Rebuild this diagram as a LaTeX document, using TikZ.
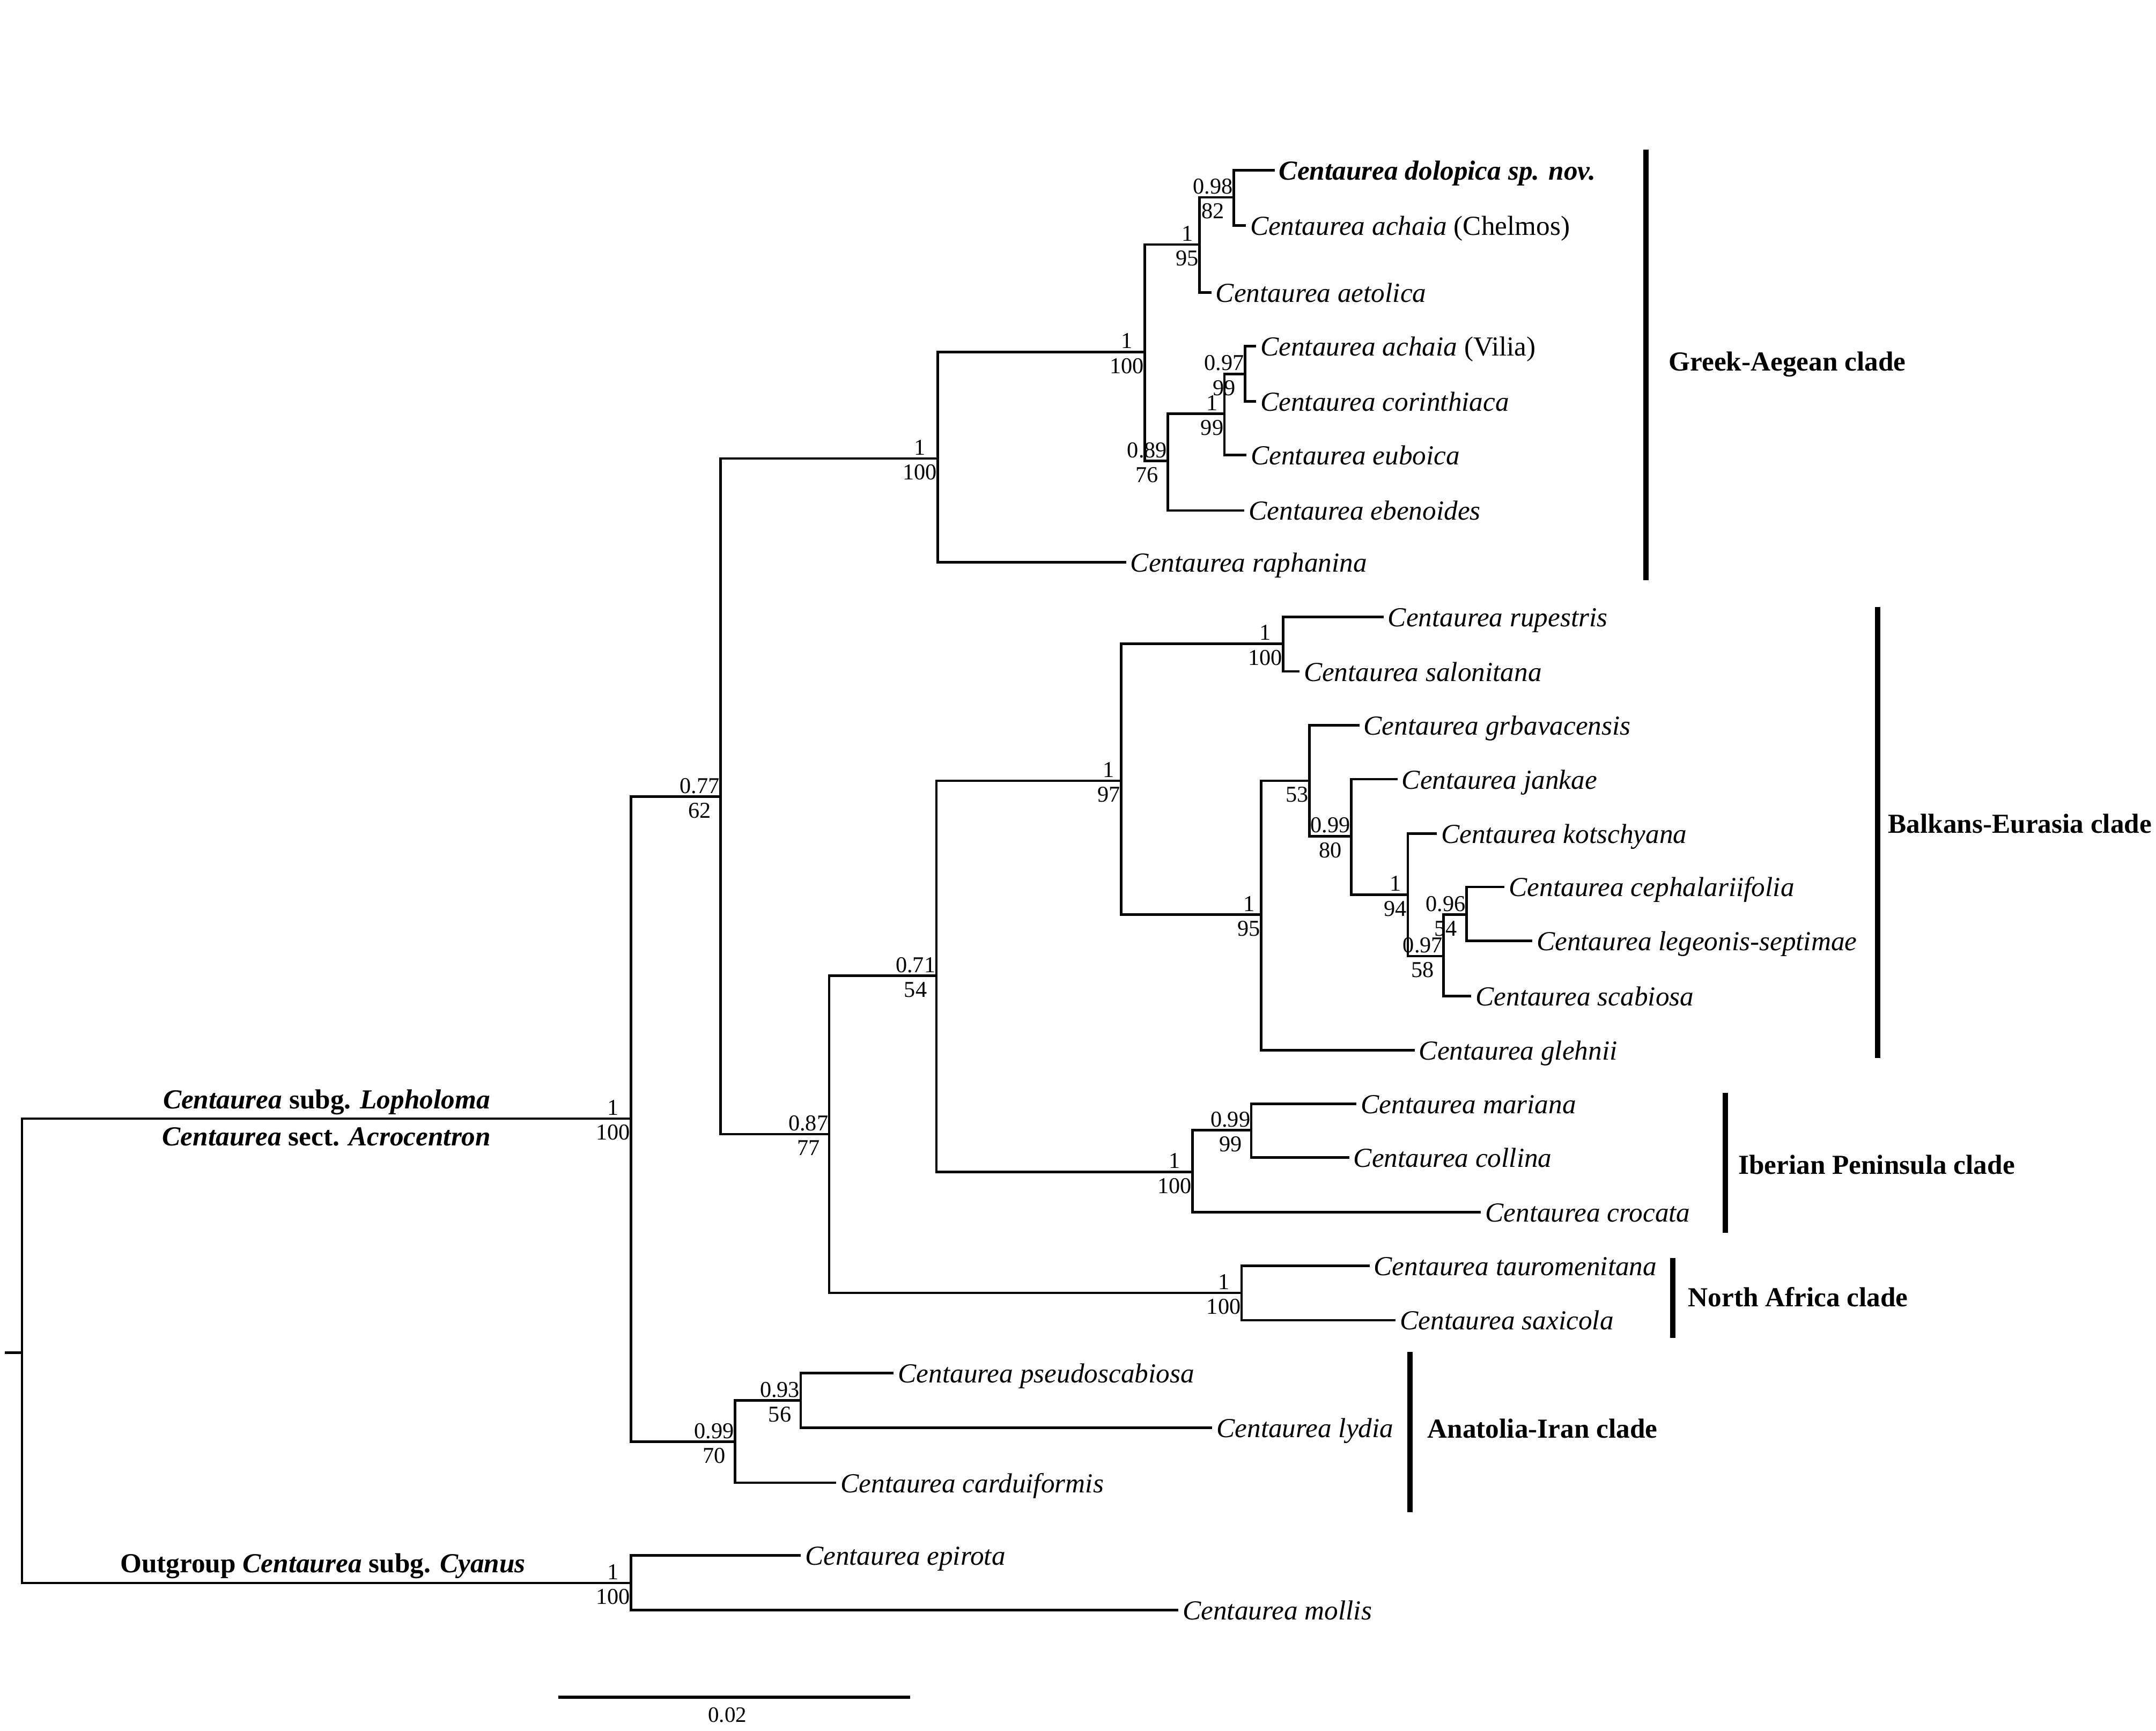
\documentclass[tikz,border=0pt]{standalone}
\usepackage{fontspec}
\setmainfont{Liberation Serif}
\newcommand\supp[3]{\node[sup] (#1s) at ([xshift=-0.5pt,yshift=2.5pt]#1) {\begin{tabular}[t]{@{}c@{}}#2\\#3\end{tabular}};}
\newcommand\tipl[2]{\node[tax] (#1L) at ([xshift=3pt,yshift=-7pt]#1) {#2};}
\begin{document}
\begin{tikzpicture}[x=1pt,y=-1pt,
  br/.style={line width=1.8pt},
  cladebar/.style={line width=4pt},
  tax/.style={font=\fontsize{20}{24}\selectfont\itshape, anchor=base west, inner sep=0pt},
  sup/.style={font=\fontsize{16.5}{18}\selectfont, anchor=base east, inner sep=0pt},
  cladelab/.style={font=\fontsize{20}{24}\selectfont\bfseries, anchor=base west, inner sep=0pt},
  grp/.style={font=\fontsize{20}{24}\selectfont\bfseries, anchor=base, inner sep=0pt}]
\useasboundingbox (0,0) rectangle (1568,1259);
% internal nodes
\coordinate (stub) at (3.4,984);
\coordinate (root) at (16,984);
\coordinate (ing) at (459,813.6);
\coordinate (outg) at (459,1151.4);
\coordinate (n077) at (524,579.5);
\coordinate (ngreek) at (682,333.5);
\coordinate (ncore) at (832.6,256);
\coordinate (n195) at (872.4,177.8);
\coordinate (n098) at (897.2,143.6);
\coordinate (n089) at (849.4,335.3);
\coordinate (n199) at (890.5,300.9);
\coordinate (n097) at (905.5,272);
\coordinate (n087) at (603,825);
\coordinate (n071) at (681,709.7);
\coordinate (n197) at (815.3,567.9);
\coordinate (nrup) at (933.3,468.2);
\coordinate (n195b) at (917.3,665.3);
\coordinate (n53) at (952.4,567.9);
\coordinate (n099) at (982.6,608.2);
\coordinate (n194) at (1023.8,650.7);
\coordinate (n097b) at (1049.9,695.5);
\coordinate (n096) at (1066.5,665.3);
\coordinate (niber) at (867.3,852.4);
\coordinate (n099b) at (910,822.1);
\coordinate (nafr) at (903,940.4);
\coordinate (nana) at (534.5,1048.6);
\coordinate (n093) at (582.3,1018.7);
% tips
\coordinate (dolopica) at (927,123.9);
\coordinate (chelmos) at (906,164);
\coordinate (aetolica) at (881,212.7);
\coordinate (vilia) at (913.5,251.8);
\coordinate (corinth) at (913.5,292);
\coordinate (euboica) at (906.5,331);
\coordinate (ebenoides) at (905,371.3);
\coordinate (raphanina) at (819,409);
\coordinate (rupestris) at (1006.2,448.7);
\coordinate (salonitana) at (945,488.4);
\coordinate (grbav) at (988.6,527.6);
\coordinate (jankae) at (1016.3,566.8);
\coordinate (kotsch) at (1045,606.4);
\coordinate (cephal) at (1094.2,645.1);
\coordinate (legeon) at (1114.3,684.3);
\coordinate (scabiosa) at (1070,724.6);
\coordinate (glehnii) at (1028.8,763.8);
\coordinate (mariana) at (986.6,802.8);
\coordinate (collina) at (981.2,842);
\coordinate (crocata) at (1077,881.8);
\coordinate (taurom) at (996,920.7);
\coordinate (saxicola) at (1015,960.3);
\coordinate (pseudo) at (650,998.7);
\coordinate (lydia) at (881.6,1038.6);
\coordinate (carduif) at (608.2,1078.5);
\coordinate (epirota) at (582.3,1131.4);
\coordinate (mollis) at (857,1171);
% branches
\draw[br] (stub) -- (root);
\foreach \p/\c in {root/ing,root/outg,ing/n077,ing/nana,n077/ngreek,n077/n087,
  ngreek/ncore,ngreek/raphanina,ncore/n195,ncore/n089,n195/n098,n195/aetolica,
  n098/dolopica,n098/chelmos,n089/n199,n089/ebenoides,n199/n097,n199/euboica,
  n097/vilia,n097/corinth,n087/n071,n087/nafr,n071/n197,n071/niber,
  n197/nrup,n197/n195b,nrup/rupestris,nrup/salonitana,n195b/n53,n195b/glehnii,
  n53/grbav,n53/n099,n099/jankae,n099/n194,n194/kotsch,n194/n097b,
  n097b/n096,n097b/scabiosa,n096/cephal,n096/legeon,niber/n099b,niber/crocata,
  n099b/mariana,n099b/collina,nafr/taurom,nafr/saxicola,nana/n093,nana/carduif,
  n093/pseudo,n093/lydia,outg/epirota,outg/mollis}
  \draw[br] (\p) |- (\c);
% support values
\supp{ing}{1}{100}
\supp{outg}{1}{100}
\supp{n077}{0.77}{62}
\supp{ngreek}{1}{100}
\supp{ncore}{1}{100}
\supp{n195}{1}{95}
\supp{n098}{0.98}{82}
\supp{n089}{0.89}{76}
\supp{n199}{1}{99}
\supp{n097}{0.97}{99}
\supp{n087}{0.87}{77}
\supp{n071}{0.71}{54}
\supp{n197}{1}{97}
\supp{nrup}{1}{100}
\supp{n195b}{1}{95}
\supp{n53}{}{53}
\supp{n099}{0.99}{80}
\supp{n194}{1}{94}
\supp{n097b}{0.97}{58}
\supp{n096}{0.96}{54}
\supp{niber}{1}{100}
\supp{n099b}{0.99}{99}
\supp{nafr}{1}{100}
\supp{nana}{0.99}{70}
\supp{n093}{0.93}{56}
% taxon labels
\tipl{dolopica}{\bfseries Centaurea dolopica sp. nov.}
\tipl{chelmos}{Centaurea achaia \textup{(Chelmos)}}
\tipl{aetolica}{Centaurea aetolica}
\tipl{vilia}{Centaurea achaia \textup{(Vilia)}}
\tipl{corinth}{Centaurea corinthiaca}
\tipl{euboica}{Centaurea euboica}
\tipl{ebenoides}{Centaurea ebenoides}
\tipl{raphanina}{Centaurea raphanina}
\tipl{rupestris}{Centaurea rupestris}
\tipl{salonitana}{Centaurea salonitana}
\tipl{grbav}{Centaurea grbavacensis}
\tipl{jankae}{Centaurea jankae}
\tipl{kotsch}{Centaurea kotschyana}
\tipl{cephal}{Centaurea cephalariifolia}
\tipl{legeon}{Centaurea legeonis-septimae}
\tipl{scabiosa}{Centaurea scabiosa}
\tipl{glehnii}{Centaurea glehnii}
\tipl{mariana}{Centaurea mariana}
\tipl{collina}{Centaurea collina}
\tipl{crocata}{Centaurea crocata}
\tipl{taurom}{Centaurea tauromenitana}
\tipl{saxicola}{Centaurea saxicola}
\tipl{pseudo}{Centaurea pseudoscabiosa}
\tipl{lydia}{Centaurea lydia}
\tipl{carduif}{Centaurea carduiformis}
\tipl{epirota}{Centaurea epirota}
\tipl{mollis}{Centaurea mollis}
% clade bars
\coordinate (gA) at (1197,109);   \coordinate (gB) at (1197,422);
\coordinate (bA) at (1365.5,441.4); \coordinate (bB) at (1365.5,769.4);
\coordinate (iA) at (1254.8,795); \coordinate (iB) at (1254.8,896.7);
\coordinate (fA) at (1216.5,915); \coordinate (fB) at (1216.5,973.3);
\coordinate (aA) at (1025.3,983.3); \coordinate (aB) at (1025.3,1099.9);
\draw[cladebar] (gA) -- (gB);
\draw[cladebar] (bA) -- (bB);
\draw[cladebar] (iA) -- (iB);
\draw[cladebar] (fA) -- (fB);
\draw[cladebar] (aA) -- (aB);
\node[cladelab] (gL) at (1213.5,269.8) {Greek-Aegean clade};
\node[cladelab] (bL) at (1373,606) {Balkans-Eurasia clade};
\node[cladelab] (iL) at (1264,854) {Iberian Peninsula clade};
\node[cladelab] (fL) at (1227.5,950.2) {North Africa clade};
\node[cladelab] (aL) at (1038,1046) {Anatolia-Iran clade};
% group labels
\node[grp] (lop) at (237.5,806.6) {\textit{Centaurea} subg. \textit{Lopholoma}};
\node[grp] (acr) at (237.5,833.2) {\textit{Centaurea} sect. \textit{Acrocentron}};
\node[grp] (cya) at (234.8,1143.7) {Outgroup \textit{Centaurea} subg. \textit{Cyanus}};
% scale bar
\coordinate (sbA) at (406,1234.5);
\coordinate (sbB) at (662,1234.5);
\draw[line width=2pt] (sbA) -- (sbB);
\node[font=\fontsize{16}{18}\selectfont, anchor=base, inner sep=0pt] (sbL) at (529,1252.5) {0.02};
\end{tikzpicture}
\end{document}
